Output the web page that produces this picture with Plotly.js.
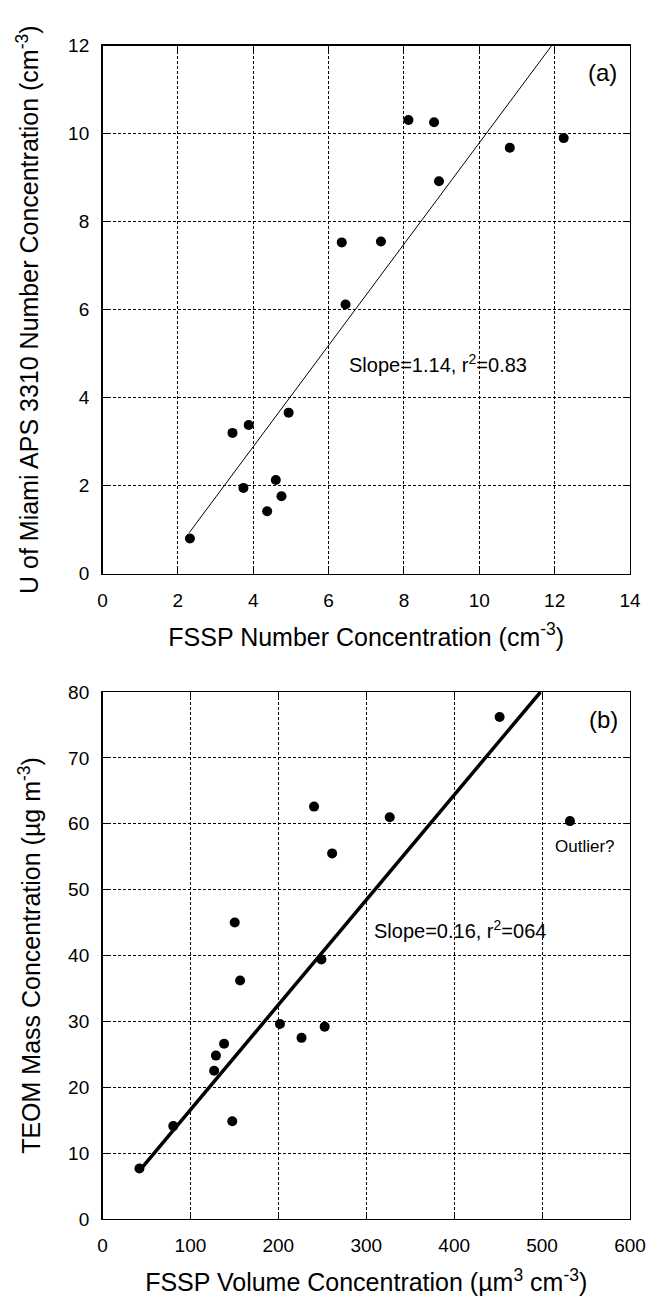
<!DOCTYPE html>
<html>
<head>
<meta charset="utf-8">
<script src="https://cdn.plot.ly/plotly-3.0.1.min.js"></script>
<style>
  html, body { margin: 0; padding: 0; background: #fff; }
  #chart { width: 648px; height: 1299px; }
</style>
</head>
<body>
<div id="chart"></div>
<script>
// ---- Panel (a) data ----
var aFsspNumber = [2.32, 3.45, 3.74, 3.88, 4.37, 4.60, 4.75, 4.94, 6.35, 6.45, 7.39, 8.12, 8.80, 8.93, 10.81, 12.24];
var aApsNumber  = [0.80, 3.20, 1.95, 3.38, 1.42, 2.13, 1.76, 3.66, 7.53, 6.12, 7.55, 10.31, 10.26, 8.92, 9.68, 9.90];
var aFitX = [2.3, 11.92];
var aFitY = [0.93, 12.0];
var aXTicks = [0, 2, 4, 6, 8, 10, 12, 14];
var aYTicks = [0, 2, 4, 6, 8, 10, 12];

// ---- Panel (b) data ----
var bFsspVolume = [42, 80.5, 127, 129, 138.3, 147.6, 150.4, 156.5, 201.8, 226.4, 240.6, 249, 252.7, 261.2, 326.7, 451.7, 531.7];
var bTeomMass   = [7.66, 14.1, 22.5, 24.8, 26.6, 14.85, 45.0, 36.2, 29.6, 27.5, 62.6, 39.4, 29.2, 55.5, 61.0, 76.2, 60.4];
var bFitX = [43.3, 498.2];
var bFitY = [7.55, 80.0];
var bXTicks = [0, 100, 200, 300, 400, 500, 600];
var bYTicks = [0, 10, 20, 30, 40, 50, 60, 70, 80];

var FONT = "'Liberation Sans', Arial, Helvetica, sans-serif";

var traces = [
  { x: aFitX, y: aFitY, xaxis: 'x', yaxis: 'y', mode: 'lines',
    line: { color: '#000', width: 1 }, hoverinfo: 'skip' },
  { x: aFsspNumber, y: aApsNumber, xaxis: 'x', yaxis: 'y', mode: 'markers',
    marker: { color: '#000', size: 10 } },
  { x: bFitX, y: bFitY, xaxis: 'x2', yaxis: 'y2', mode: 'lines',
    line: { color: '#000', width: 3.5 }, hoverinfo: 'skip' },
  { x: bFsspVolume, y: bTeomMass, xaxis: 'x2', yaxis: 'y2', mode: 'markers',
    marker: { color: '#000', size: 10 } }
];

function axisBase(ticks, range) {
  return {
    range: range,
    tickmode: 'array',
    tickvals: ticks,
    ticktext: ticks.map(String),
    ticks: 'inside',
    ticklen: 6,
    tickwidth: 1,
    tickcolor: '#000',
    showline: true,
    linecolor: '#000',
    linewidth: 1.5,
    mirror: 'ticks',
    showgrid: true,
    gridcolor: '#000',
    gridwidth: 1,
    griddash: '3px,2px',
    zeroline: false,
    tickfont: { family: FONT, size: 19, color: '#000' },
    automargin: false,
    fixedrange: true
  };
}

var xA = axisBase(aXTicks, [0, 14]);
xA.domain = [0.1582, 0.9722];
xA.anchor = 'y';
xA.ticklabelstandoff = 9;
xA.title = { text: 'FSSP Number Concentration (cm<sup>-3</sup>)', font: { family: FONT, size: 25, color: '#000' }, standoff: 18 };

var yA = axisBase(aYTicks, [0, 12]);
yA.domain = [0.55835, 0.96482];
yA.anchor = 'x';
yA.ticklabelstandoff = 8;
yA.title = { text: 'U of Miami APS 3310 Number Concentration (cm<sup>-3</sup>)', font: { family: FONT, size: 25, color: '#000' }, standoff: 22 };

var xB = axisBase(bXTicks, [0, 600]);
xB.domain = [0.1582, 0.9722];
xB.anchor = 'y2';
xB.ticklabelstandoff = 9;
xB.title = { text: 'FSSP Volume Concentration (µm<sup>3</sup> cm<sup>-3</sup>)', font: { family: FONT, size: 25, color: '#000' }, standoff: 18 };

var yB = axisBase(bYTicks, [0, 80]);
yB.domain = [0.06159, 0.46728];
yB.anchor = 'x2';
yB.ticklabelstandoff = 8;
yB.title = { text: 'TEOM Mass Concentration (µg m<sup>-3</sup>)', font: { family: FONT, size: 25, color: '#000' }, standoff: 20 };

var layout = {
  width: 648,
  height: 1299,
  margin: { l: 0, r: 0, t: 0, b: 0, pad: 0 },
  paper_bgcolor: '#fff',
  plot_bgcolor: '#fff',
  showlegend: false,
  font: { family: FONT, color: '#000' },
  xaxis: xA, yaxis: yA, xaxis2: xB, yaxis2: yB,
  annotations: [
    { xref: 'x', yref: 'y', x: 6.48, y: 4.77, xanchor: 'left', yanchor: 'middle',
      text: 'Slope=1.14, r<sup>2</sup>=0.83', showarrow: false, font: { family: FONT, size: 20, color: '#000' } },
    { xref: 'x', yref: 'y', x: 13.27, y: 11.38, xanchor: 'center', yanchor: 'middle',
      text: '(a)', showarrow: false, font: { family: FONT, size: 24, color: '#000' } },
    { xref: 'x2', yref: 'y2', x: 307, y: 44, xanchor: 'left', yanchor: 'middle',
      text: 'Slope=0.16, r<sup>2</sup>=064', showarrow: false, font: { family: FONT, size: 20, color: '#000' } },
    { xref: 'x2', yref: 'y2', x: 549, y: 56.5, xanchor: 'center', yanchor: 'middle',
      text: 'Outlier?', showarrow: false, font: { family: FONT, size: 17, color: '#000' } },
    { xref: 'x2', yref: 'y2', x: 570, y: 75.9, xanchor: 'center', yanchor: 'middle',
      text: '(b)', showarrow: false, font: { family: FONT, size: 24, color: '#000' } }
  ]
};

Plotly.newPlot('chart', traces, layout, { staticPlot: true, displayModeBar: false });
</script>
</body>
</html>
